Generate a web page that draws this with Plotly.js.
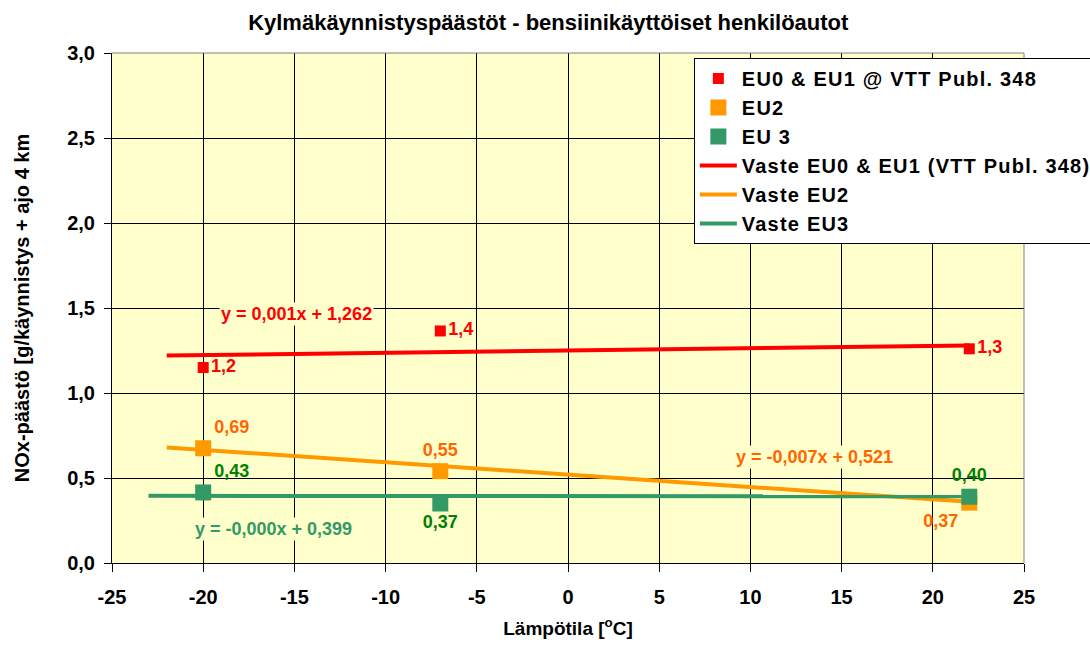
<!DOCTYPE html>
<html>
<head>
<meta charset="utf-8">
<script src="https://cdn.plot.ly/plotly-3.0.1.min.js"></script>
<style>
html,body{margin:0;padding:0;background:#fff;}
#chart{width:1090px;height:646px;}
.legendtext{letter-spacing:1.2px;}
#chart .xtick text, #chart .ytick text{font-weight:bold !important;}
</style>
</head>
<body>
<div id="chart"></div>
<script>
// Measured points
const tempX = [-20, -7, 22];
const eu01Y = [1.15, 1.365, 1.26];
const eu01Labels = ['1,2', '1,4', '1,3'];
const eu2Y = [0.675, 0.54, 0.355];
const eu2Labels = ['0,69', '0,55', '0,37'];
const eu3Y = [0.415, 0.35, 0.39];
const eu3Labels = ['0,43', '0,37', '0,40'];

// Trend lines (endpoints)
const fitEu01X = [-22, 22];
const fitEu01Y = [1.22, 1.28];
const fitEu2X = [-22, 22];
const fitEu2Y = [0.68, 0.36];
const fitEu3X = [-23, 22];
const fitEu3Y = [0.395, 0.392];

const xTicks = [-25, -20, -15, -10, -5, 0, 5, 10, 15, 20, 25];
const xTickLabels = ['-25', '-20', '-15', '-10', '-5', '0', '5', '10', '15', '20', '25'];
const yTicks = [0, 0.5, 1.0, 1.5, 2.0, 2.5, 3.0];
const yTickLabels = ['0,0', '0,5', '1,0', '1,5', '2,0', '2,5', '3,0'];

const RED = '#FF0000', ORANGE = '#FF9900', GREEN = '#339966';
const FONT = 'Liberation Sans, Arial, sans-serif';

const traces = [
  {x: fitEu01X, y: fitEu01Y, mode: 'lines', name: 'Vaste EU0 & EU1 (VTT Publ. 348)', line: {color: RED, width: 4}, legendrank: 4},
  {x: fitEu2X, y: fitEu2Y, mode: 'lines', name: 'Vaste EU2', line: {color: ORANGE, width: 4}, legendrank: 5},
  {x: fitEu3X, y: fitEu3Y, mode: 'lines', name: 'Vaste EU3', line: {color: GREEN, width: 4}, legendrank: 6},
  {x: tempX, y: eu01Y, mode: 'markers+text', name: 'EU0 & EU1 @ VTT Publ. 348',
   marker: {symbol: 'square', size: 11, color: RED},
   text: eu01Labels, textposition: ['middle right', 'middle right', 'middle right'],
   textfont: {color: RED, size: 18, family: FONT, weight: 'bold'}, legendrank: 1},
  {x: tempX, y: eu2Y, mode: 'markers+text', name: 'EU2',
   marker: {symbol: 'square', size: 16, color: ORANGE},
   text: eu2Labels, textposition: ['top right', 'top center', 'bottom left'],
   textfont: {color: '#FF6600', size: 18, family: FONT, weight: 'bold'}, legendrank: 2},
  {x: tempX, y: eu3Y, mode: 'markers+text', name: 'EU 3',
   marker: {symbol: 'square', size: 16, color: GREEN},
   text: eu3Labels, textposition: ['top right', 'bottom center', 'top center'],
   textfont: {color: '#008000', size: 18, family: FONT, weight: 'bold'}, legendrank: 3}
];

const layout = {
  width: 1090, height: 646,
  separators: ', ',
  font: {family: FONT, size: 18, color: '#000', weight: 'bold'},
  paper_bgcolor: '#FFFFFF',
  plot_bgcolor: '#FFFFCC',
  margin: {l: 112, r: 66, t: 53, b: 83, autoexpand: false},
  showlegend: true,
  title: {text: '<b>Kylmäkäynnistyspäästöt - bensiinikäyttöiset henkilöautot</b>',
          font: {family: FONT, size: 22, color: '#000'},
          xref: 'container', x: 0.503, xanchor: 'center', yref: 'container', y: 0.966, yanchor: 'middle'},
  xaxis: {range: [-25, 25], tickvals: xTicks, ticktext: xTickLabels,
          showgrid: true, gridcolor: '#000', gridwidth: 1, zeroline: false,
          showline: true, linecolor: '#000', linewidth: 1,
          ticks: 'outside', ticklen: 8, tickcolor: '#000', ticklabelstandoff: 8,
          tickfont: {family: FONT, size: 20, weight: 'bold'},
          title: {text: '<b>Lämpötila [<sup>o</sup>C]</b>', font: {family: FONT, size: 19}, standoff: 14}},
  yaxis: {range: [0, 3], tickvals: yTicks, ticktext: yTickLabels,
          showgrid: true, gridcolor: '#000', gridwidth: 1, zeroline: false,
          showline: true, linecolor: '#000', linewidth: 1,
          ticks: 'outside', ticklen: 7, tickcolor: '#000', ticklabelstandoff: 5,
          tickfont: {family: FONT, size: 20, weight: 'bold'},
          title: {text: '<b>NOx-päästö [g/käynnistys + ajo 4 km</b>', font: {family: FONT, size: 20}, standoff: 32}},
  legend: {x: 0.638, xanchor: 'left', y: 0.99, yanchor: 'top',
           bgcolor: '#FFFFFF', bordercolor: '#000', borderwidth: 1,
           font: {family: FONT, size: 20, weight: 'bold'}, traceorder: 'normal',
           itemwidth: 37, tracegroupgap: 0},
  shapes: [
    {type: 'line', xref: 'paper', yref: 'paper', x0: 0, x1: 1, y0: 1, y1: 1, line: {color: '#808080', width: 1}},
    {type: 'line', xref: 'paper', yref: 'paper', x0: 1, x1: 1, y0: 0, y1: 1, line: {color: '#808080', width: 1}}
  ],
  annotations: [
    {x: -14.86, y: 1.465, xref: 'x', yref: 'y', text: '<b>y = 0,001x + 1,262</b>', showarrow: false,
     font: {color: RED, size: 18, family: FONT}, bgcolor: '#FFFFCC'},
    {x: 13.49, y: 0.624, xref: 'x', yref: 'y', text: '<b>y = -0,007x + 0,521</b>', showarrow: false,
     font: {color: '#FF6600', size: 18, family: FONT}, bgcolor: '#FFFFCC'},
    {x: -16.12, y: 0.2, xref: 'x', yref: 'y', text: '<b>y = -0,000x + 0,399</b>', showarrow: false,
     font: {color: GREEN, size: 18, family: FONT}, bgcolor: '#FFFFCC'}
  ]
};

Plotly.newPlot('chart', traces, layout, {displayModeBar: false, staticPlot: true});
</script>
</body>
</html>
